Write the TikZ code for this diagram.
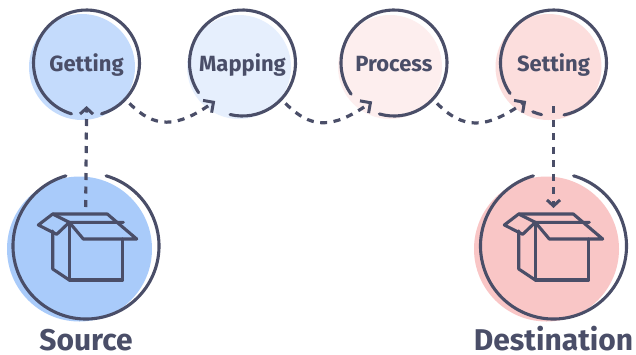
\documentclass[tikz,border=0pt]{standalone}
\usepackage{fontspec}
\setmainfont{Fira Sans}
\usetikzlibrary{calc,arrows.meta}
\definecolor{inkc}{HTML}{4A4E68}
\definecolor{gettingc}{HTML}{C4DBFC}
\definecolor{mappingc}{HTML}{E6EFFD}
\definecolor{processc}{HTML}{FDEEEE}
\definecolor{settingc}{HTML}{FCDEDD}
\definecolor{sourcec}{HTML}{A9CBFA}
\definecolor{destc}{HTML}{F9C6C6}
\tikzset{
  stage/.style={circle,minimum size=106pt,inner sep=0pt,outer sep=0pt,text=inkc,text height=17pt,text depth=0pt,font=\bfseries\fontsize{22}{24}\selectfont},
  endpoint/.style={circle,minimum size=146pt,inner sep=0pt,outer sep=0pt},
  caption/.style={text=inkc,font=\bfseries\fontsize{30}{32}\selectfont,inner sep=0pt,anchor=base},
  ringline/.style={draw=inkc,line width=3.1pt,line cap=round},
  boxline/.style={draw=inkc,line width=3.1pt,line join=round,line cap=round},
  flow/.style={draw=inkc,line width=3.2pt,dash pattern=on 7pt off 6.5pt,-{Straight Barb[length=6pt,width=13pt,line width=3pt]}},
  hop/.style={flow,out=-45,in=215,looseness=1.25,-{Straight Barb[length=7.5pt,width=15pt,line width=3pt]}},
}
\newcommand{\ringarc}[4]{\draw[ringline] ($(#1)+(#3:#2pt)$) arc[start angle=#3,end angle=#4,radius=#2pt];}
\newcommand{\parcelbox}[1]{%
  \begin{scope}[shift={(#1,0)}]
    \draw[boxline] (52.7,214) -- (107.3,214) -- (136.7,239) -- (83.3,239) -- (69.3,222.3) -- (123.3,222.3);
    \draw[boxline] (52.7,214) -- (38.3,225) -- (56.7,234.3) -- (69.3,222.3) -- cycle;
    \draw[boxline] (69.3,222.3) -- (69.3,280) -- (122.7,280) -- (122.7,239);
    \draw[boxline] (52.7,231) -- (52.7,269) -- (69.3,280);
  \end{scope}}
\begin{document}
\begin{tikzpicture}[x=1pt,y=-1pt]
\useasboundingbox (0,0) rectangle (636,354);
\fill[white] (0,0) rectangle (636,354);
% colour discs
\fill[gettingc] (82,67) circle[radius=53pt];
\fill[mappingc] (239,67) circle[radius=52pt];
\fill[processc] (390,67) circle[radius=52pt];
\fill[settingc] (548.5,67) circle[radius=53pt];
\fill[sourcec] (79.5,249) circle[radius=72.5pt];
\fill[destc] (546.5,249) circle[radius=72.5pt];
% nodes
\node[stage] (getting) at (86.5,63) {Getting};
\node[stage] (mapping) at (242.5,63) {Mapping};
\node[stage] (process) at (394,63) {Process};
\node[stage] (setting) at (553.5,63) {Setting};
\node[endpoint] (source) at (86,246) {};
\node[endpoint] (dest) at (553.5,246) {};
\node[caption] (sourcelabel) at (86,350) {Source};
\node[caption] (destlabel) at (553.5,350) {Destination};
% rings
\ringarc{getting}{53}{-73.6}{253.6}
\ringarc{mapping}{53}{256.5}{574}
\ringarc{process}{53}{254}{576}
\ringarc{setting}{53}{-78.6}{215}
\ringarc{setting}{53}{247}{257}
\ringarc{source}{73}{106}{434}
\ringarc{dest}{73}{106}{434}
% boxes
\parcelbox{0}
\parcelbox{466}
% connectors
\draw[flow,shorten <=-34pt,shorten >=-10pt] (source.north) -- (getting.south);
\draw[flow,shorten <=-10pt,shorten >=-35pt] (setting.south) -- (dest.north);
\draw[hop,shorten <=6pt,shorten >=-6.5pt] (getting.-43) to (mapping.232);
\draw[hop,shorten <=6pt,shorten >=-9.5pt] (mapping.-43) to (process.236);
\draw[hop,shorten <=6pt,shorten >=-6.5pt] (process.-43) to (setting.232);
\end{tikzpicture}
\end{document}
